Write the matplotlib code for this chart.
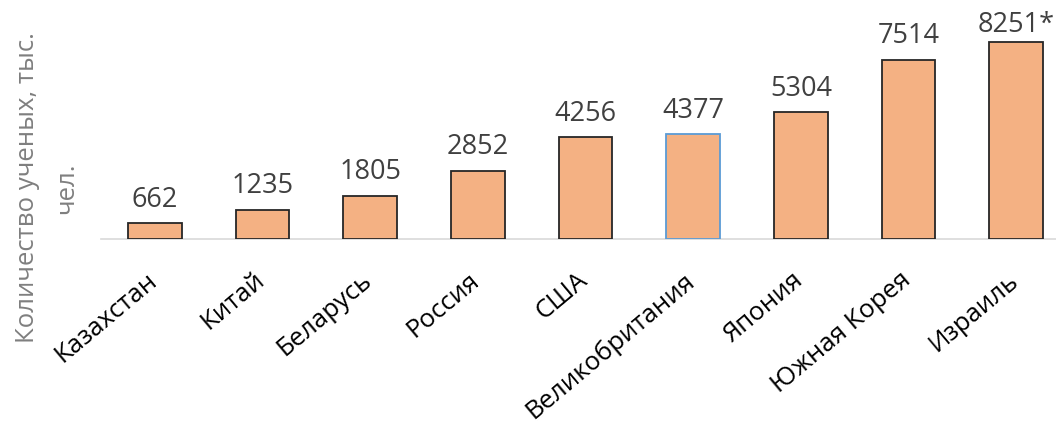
import matplotlib
matplotlib.use("Agg")
import matplotlib.pyplot as plt
from matplotlib.transforms import ScaledTranslation

countries = ["Казахстан", "Китай", "Беларусь", "Россия", "США",
             "Великобритания", "Япония", "Южная Корея", "Израиль"]
scientists = [662, 1235, 1805, 2852, 4256, 4377, 5304, 7514, 8251]
value_labels = ["662", "1235", "1805", "2852", "4256", "4377", "5304", "7514", "8251*"]

fig = plt.figure(figsize=(10.56, 4.27), dpi=100)
# axes: left at 101px, baseline at 240px from top, right edge past the figure
ax = fig.add_axes([101 / 1056, 1 - 240 / 427, 969 / 1056, 240 / 427])

edges = ["#262626"] * len(countries)
edges[5] = "#5B9BD5"
x = range(len(countries))
ax.bar(x, scientists, width=0.5, color="#F4B183", edgecolor=edges, linewidth=1.3, zorder=3)

for i, v in enumerate(scientists):
    off = 7.5 if i < len(scientists) - 1 else 2.5  # top label squeezed by the chart edge
    ax.annotate(value_labels[i], (i, v), xytext=(0, off), textcoords="offset points",
                ha="center", va="bottom", fontsize=19.5, color="#404040", family="Open Sans")

ax.set_xlim(-0.5, len(countries) - 0.5)
ax.set_ylim(0, 10050)
for s in ["top", "right", "left"]:
    ax.spines[s].set_visible(False)
ax.spines["bottom"].set_color("#D9D9D9")
ax.spines["bottom"].set_linewidth(1.2)
ax.set_yticks([])
ax.set_xticks(list(x))
ax.set_xticklabels(countries, rotation=40, ha="right", va="top",
                   fontsize=18.5, family="Open Sans", color="black")
ax.tick_params(axis="x", length=0, pad=20)
shift = ScaledTranslation(7 / 100, 0, fig.dpi_scale_trans)
for lbl in ax.get_xticklabels():
    lbl.set_transform(lbl.get_transform() + shift)

fig.text(47 / 1056, 1 - 188 / 427, "Количество ученых, тыс.\nчел.", rotation=90,
         ha="center", va="center", multialignment="center", fontsize=18.5,
         color="#7F7F7F", family="Open Sans", linespacing=1.75)

fig.savefig("out.png", dpi=100)
